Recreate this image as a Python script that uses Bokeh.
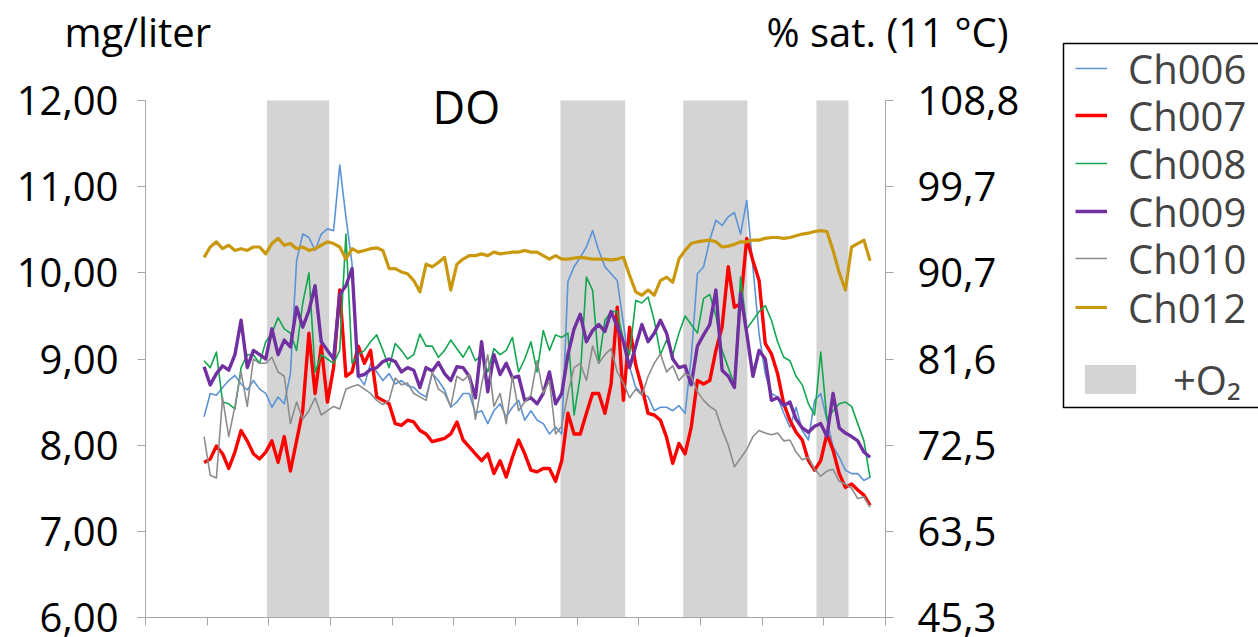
from bokeh.plotting import figure
from bokeh.models import (Range1d, LinearAxis, FixedTicker, Legend, LegendItem,
                          Label, BoxAnnotation)
from bokeh.embed import file_html
from bokeh.resources import INLINE

# ---------------- data ----------------
times = [round(0.95 + 0.1 * i, 2) for i in range(109)]

ch006 = [8.33, 8.60, 8.58, 8.67, 8.75, 8.81, 8.71, 8.64, 8.75, 8.65,
         8.60, 8.44, 8.56, 8.48, 8.83, 10.14, 10.45, 10.41, 10.26, 10.45,
         10.51, 10.49, 11.25, 10.65, 10.10, 8.80, 8.70, 8.95, 8.85, 8.75,
         8.83, 8.71, 8.75, 8.69, 8.67, 8.60, 8.56, 8.83, 8.75, 8.64,
         8.44, 8.50, 8.60, 8.60, 8.37, 8.40, 8.25, 8.40, 8.48, 8.33,
         8.44, 8.52, 8.29, 8.40, 8.29, 8.25, 8.13, 8.21, 8.13, 9.90,
         10.07, 10.18, 10.30, 10.49, 10.26, 10.07, 9.99, 9.91, 9.41, 8.91,
         8.67, 8.60, 8.56, 8.40, 8.44, 8.44, 8.40, 8.46, 8.37, 9.02,
         9.99, 10.07, 10.38, 10.61, 10.55, 10.65, 10.70, 10.45, 10.84, 10.07,
         9.29, 8.83, 8.60, 8.56, 8.37, 8.21, 8.44, 8.17, 8.06, 8.52,
         8.60, 8.29, 7.98, 7.86, 7.71, 7.67, 7.67, 7.59, 7.63]

ch007 = [7.80, 7.84, 7.99, 7.90, 7.73, 7.92, 8.17, 8.05, 7.90, 7.84,
         7.92, 8.05, 7.80, 8.10, 7.70, 8.05, 8.40, 9.30, 8.60, 9.15,
         8.50, 8.90, 9.80, 8.80, 8.85, 9.15, 8.95, 9.10, 8.56, 8.52,
         8.48, 8.25, 8.23, 8.29, 8.27, 8.17, 8.13, 8.04, 8.06, 8.08,
         8.13, 8.27, 8.06, 7.98, 7.90, 7.82, 7.90, 7.67, 7.82, 7.63,
         7.86, 8.06, 7.90, 7.71, 7.69, 7.73, 7.73, 7.58, 7.82, 8.37,
         8.13, 8.13, 8.37, 8.60, 8.60, 8.37, 8.71, 9.60, 8.52, 9.37,
         8.93, 8.67, 8.37, 8.35, 8.29, 8.09, 7.79, 8.02, 7.90, 8.21,
         8.75, 8.71, 8.75, 9.10, 9.37, 10.07, 9.60, 9.64, 10.40, 10.14,
         9.91, 9.18, 9.06, 8.83, 8.48, 8.29, 8.15, 8.06, 7.82, 7.71,
         7.82, 8.13, 7.94, 7.67, 7.51, 7.55, 7.48, 7.42, 7.30]

ch008 = [8.98, 8.90, 9.08, 8.50, 8.48, 8.42, 8.90, 9.05, 9.05, 8.95,
         9.20, 9.30, 9.48, 9.35, 9.30, 9.10, 9.65, 10.00, 8.85, 9.05,
         9.00, 8.95, 9.10, 10.45, 8.95, 9.05, 9.10, 9.20, 9.28, 9.10,
         8.90, 9.18, 9.10, 9.00, 9.05, 9.29, 9.15, 9.15, 9.02, 9.10,
         9.22, 9.12, 9.02, 9.15, 8.98, 9.05, 8.85, 9.12, 9.05, 9.10,
         9.25, 8.85, 9.00, 9.20, 8.85, 9.33, 9.10, 9.28, 9.25, 9.30,
         8.35, 8.80, 9.95, 9.80, 8.95, 9.45, 9.55, 9.55, 9.22, 9.05,
         9.68, 9.65, 9.72, 9.45, 9.05, 9.22, 9.05, 9.30, 9.50, 9.40,
         9.30, 9.70, 9.75, 9.50, 9.10, 8.90, 8.70, 9.95, 9.35, 9.45,
         9.55, 9.62, 9.45, 9.20, 9.02, 8.98, 8.80, 8.70, 8.48, 8.35,
         9.08, 8.30, 8.40, 8.48, 8.50, 8.45, 8.25, 8.05, 7.62]

ch009 = [8.91, 8.70, 8.83, 8.92, 8.87, 9.05, 9.45, 8.90, 9.10, 9.05,
         9.00, 9.35, 9.05, 9.22, 9.14, 9.60, 9.37, 9.56, 9.85, 9.20,
         9.10, 9.00, 9.75, 9.85, 10.05, 8.80, 8.82, 8.88, 8.90, 8.97,
         9.00, 8.97, 8.85, 8.90, 8.87, 8.67, 8.90, 8.86, 8.96, 8.83,
         8.75, 8.91, 8.90, 8.80, 8.55, 9.20, 8.62, 9.05, 8.82, 8.95,
         8.78, 8.80, 8.52, 8.55, 8.48, 8.60, 8.85, 8.48, 8.60, 9.05,
         9.35, 9.52, 9.20, 9.33, 9.40, 9.32, 9.55, 9.38, 9.20, 8.90,
         9.15, 9.40, 9.20, 9.30, 9.45, 9.30, 9.00, 8.90, 8.92, 8.70,
         9.15, 9.28, 9.40, 9.80, 8.87, 8.80, 8.67, 9.76, 9.30, 8.80,
         9.10, 9.00, 8.52, 8.55, 8.46, 8.50, 8.30, 8.20, 8.15, 8.22,
         8.25, 8.10, 8.60, 8.20, 8.14, 8.10, 8.05, 7.92, 7.86]

ch010 = [8.10, 7.65, 7.62, 8.55, 8.10, 8.45, 8.85, 8.45, 9.00, 8.95,
         8.95, 9.02, 8.85, 8.80, 8.25, 8.50, 8.30, 8.40, 8.55, 8.35,
         8.40, 8.45, 8.42, 8.65, 8.68, 8.70, 8.65, 8.60, 8.52, 8.47,
         8.52, 8.78, 8.70, 8.72, 8.60, 8.56, 8.52, 8.85, 8.65, 8.60,
         8.45, 8.80, 8.75, 8.82, 8.30, 8.70, 9.05, 8.45, 8.60, 8.25,
         8.80, 8.40, 8.50, 8.58, 8.98, 8.60, 8.75, 8.13, 8.22, 8.60,
         8.90, 8.95, 8.75, 9.15, 8.95, 9.05, 9.12, 8.85, 8.72, 8.55,
         8.65, 8.58, 8.80, 8.95, 9.06, 8.85, 8.92, 8.75, 8.83, 8.80,
         8.62, 8.52, 8.45, 8.40, 8.18, 8.00, 7.75, 7.85, 7.95, 8.10,
         8.17, 8.14, 8.12, 8.14, 8.05, 8.06, 7.92, 7.83, 7.86, 7.72,
         7.64, 7.70, 7.72, 7.58, 7.55, 7.50, 7.38, 7.40, 7.28]

ch012 = [10.18, 10.30, 10.36, 10.28, 10.32, 10.26, 10.28, 10.26, 10.30, 10.30,
         10.22, 10.34, 10.40, 10.32, 10.34, 10.28, 10.30, 10.26, 10.28, 10.32,
         10.36, 10.34, 10.30, 10.16, 10.28, 10.24, 10.26, 10.28, 10.29, 10.26,
         10.05, 10.05, 10.01, 9.99, 9.91, 9.78, 10.10, 10.07, 10.12, 10.18,
         9.80, 10.10, 10.16, 10.20, 10.20, 10.22, 10.20, 10.24, 10.22, 10.23,
         10.24, 10.24, 10.26, 10.24, 10.24, 10.20, 10.16, 10.20, 10.16, 10.16,
         10.17, 10.18, 10.17, 10.16, 10.16, 10.16, 10.15, 10.16, 10.18, 9.97,
         9.78, 9.74, 9.80, 9.74, 9.91, 9.95, 9.89, 10.16, 10.26, 10.34,
         10.36, 10.37, 10.38, 10.36, 10.30, 10.31, 10.33, 10.36, 10.36, 10.38,
         10.38, 10.40, 10.41, 10.41, 10.40, 10.41, 10.43, 10.45, 10.46, 10.48,
         10.49, 10.48, 10.26, 10.00, 9.80, 10.30, 10.34, 10.38, 10.14]

# +O2 periods (start / end on the time axis)
o2_start = [1.97, 6.73, 8.72, 10.88]
o2_end = [2.98, 7.78, 9.76, 11.40]

# axes
y_ticks = [6, 7, 8, 9, 10, 11, 12]
left_labels = ["6,00", "7,00", "8,00", "9,00", "10,00", "11,00", "12,00"]
right_labels = ["45,3", "63,5", "72,5", "81,6", "90,7", "99,7", "108,8"]
x_ticks = list(range(0, 13))

series = [
    ("Ch006", ch006, "#5B93D6", 1.6),
    ("Ch007", ch007, "#FF0000", 3.4),
    ("Ch008", ch008, "#13A650", 1.6),
    ("Ch009", ch009, "#7030A0", 3.4),
    ("Ch010", ch010, "#8C8C8C", 1.6),
    ("Ch012", ch012, "#C9980C", 3.2),
]

# ---------------- layout (page pixels) ----------------
W, H = 1258, 637
AX_LEFT, AX_RIGHT = 145, 885      # pixel x of first / last category tick
AX_TOP, AX_BOTTOM = 100, 617      # pixel y of 12,00 / 6,00
XPX = (AX_RIGHT - AX_LEFT) / (x_ticks[-1] - x_ticks[0])
YPX = (AX_BOTTOM - AX_TOP) / (y_ticks[-1] - y_ticks[0])


def tx(px):
    return x_ticks[0] + (px - AX_LEFT) / XPX


def vy(py):
    return y_ticks[-1] - (py - AX_TOP) / YPX


FONT = "Open Sans"
AX = "#A6A6A6"

p = figure(width=W, height=H,
           x_range=Range1d(tx(0), tx(W)), y_range=Range1d(vy(H), vy(0)),
           output_backend="svg", toolbar_location=None,
           min_border=0, min_border_left=0, min_border_right=0,
           min_border_top=0, min_border_bottom=0)
p.xgrid.visible = False
p.ygrid.visible = False
p.outline_line_color = None
p.background_fill_color = "white"
p.border_fill_color = "white"

# bottom axis (no labels)
xa = p.xaxis[0]
xa.fixed_location = y_ticks[0]
xa.bounds = (x_ticks[0], x_ticks[-1])
xa.ticker = FixedTicker(ticks=x_ticks)
xa.major_label_overrides = {t: "" for t in x_ticks}
xa.major_tick_in = 0
xa.major_tick_out = 8
xa.minor_tick_line_color = None
xa.axis_line_color = AX
xa.major_tick_line_color = AX

# left axis
ya = p.yaxis[0]
ya.fixed_location = x_ticks[0]
ya.bounds = (y_ticks[0], y_ticks[-1])
ya.ticker = FixedTicker(ticks=y_ticks)
ya.major_label_overrides = dict(zip(y_ticks, left_labels))
ya.major_label_text_font = FONT
ya.major_label_text_font_size = "40px"
ya.major_label_text_color = "black"
ya.major_label_standoff = 19
ya.major_tick_in = 0
ya.major_tick_out = 8
ya.minor_tick_line_color = None
ya.axis_line_color = AX
ya.major_tick_line_color = AX

# right axis
ra = LinearAxis(fixed_location=x_ticks[-1], bounds=(y_ticks[0], y_ticks[-1]),
                ticker=FixedTicker(ticks=y_ticks),
                major_label_overrides=dict(zip(y_ticks, right_labels)),
                major_label_text_font=FONT, major_label_text_font_size="40px",
                major_label_text_color="black", major_label_standoff=24,
                major_tick_in=0, major_tick_out=8, minor_tick_line_color=None,
                axis_line_color=AX, major_tick_line_color=AX)
p.add_layout(ra, "right")

# shaded +O2 periods
bands = p.quad(left=o2_start, right=o2_end, bottom=y_ticks[0], top=y_ticks[-1],
               fill_color="#D4D4D4", line_color=None)

renderers = []
for name, vals, color, width in series:
    r = p.line(times[:len(vals)], vals, line_color=color, line_width=width,
               line_join="round")
    renderers.append((name, r))

# legend: one row per Legend so that each row sits where the reference has it
ROW_H = 60
common = dict(label_text_font=FONT, label_text_font_size="40px",
              label_height=ROW_H, spacing=0, padding=0, margin=0,
              border_line_color=None, background_fill_alpha=0)
row_centers = [68, 115, 163, 211, 258, 307]
for (name, r), c in zip(renderers, row_centers):
    p.add_layout(Legend(items=[LegendItem(label=name, renderers=[r])],
                        location=(1075, H - (c + ROW_H / 2)),
                        glyph_width=32, glyph_height=34, label_standoff=21,
                        **common))
p.add_layout(Legend(items=[LegendItem(label="+O\u2082", renderers=[bands])],
                    location=(1078, H - (379 + ROW_H / 2)),
                    glyph_width=64, glyph_height=36, label_standoff=31,
                    **common))

# legend frame
p.add_layout(BoxAnnotation(left=tx(1063), right=tx(W + 10), top=vy(43),
                           bottom=vy(407), fill_alpha=0, line_color="black",
                           line_width=1.5, line_alpha=1, level="underlay"))

# texts
p.add_layout(Label(x=tx(64), y=vy(31), text="mg/liter", text_font=FONT,
                   text_font_size="40px", text_color="black",
                   text_baseline="alphabetic"))
p.add_layout(Label(x=tx(1008), y=vy(31), text="% sat. (11 \u00b0C)",
                   text_font=FONT, text_font_size="40px", text_color="black",
                   text_align="right", text_baseline="alphabetic"))
p.add_layout(Label(x=tx(432), y=vy(106), text="DO", text_font=FONT,
                   text_font_size="45px", text_color="black",
                   text_baseline="alphabetic"))

open("out.html", "w").write(file_html(p, INLINE))
